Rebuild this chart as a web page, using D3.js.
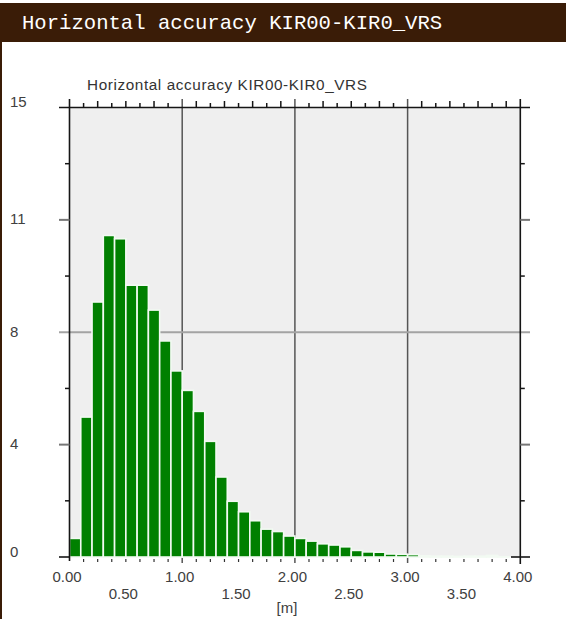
<!DOCTYPE html>
<html>
<head>
<meta charset="utf-8">
<script src="https://cdn.jsdelivr.net/npm/d3@7/dist/d3.min.js"></script>
<style>
  body { margin: 0; background: #fff; }
  svg { display: block; }
</style>
</head>
<body>
<script>
// Histogram of horizontal accuracy, 0.1 m bins
const binStart = [0.0, 0.1, 0.2, 0.3, 0.4, 0.5, 0.6, 0.7, 0.8, 0.9,
                  1.0, 1.1, 1.2, 1.3, 1.4, 1.5, 1.6, 1.7, 1.8, 1.9,
                  2.0, 2.1, 2.2, 2.3, 2.4, 2.5, 2.6, 2.7, 2.8, 2.9,
                  3.0, 3.1, 3.2, 3.3, 3.4, 3.5, 3.6, 3.7, 3.8, 3.9];
const binWidth = 0.1;
const counts = [0.62, 4.67, 8.51, 10.73, 10.62, 9.07, 9.07, 8.24, 7.21, 6.21,
                5.56, 4.86, 3.86, 2.67, 1.86, 1.51, 1.21, 0.93, 0.85, 0.70,
                0.62, 0.53, 0.44, 0.40, 0.34, 0.22, 0.17, 0.16, 0.10, 0.09,
                0.08, 0.04, 0.03, 0.03, 0.02, 0.03, 0.03, 0.05, 0.01, 0.00];

const yTickValues = [0, 3.75, 7.5, 11.25, 15];
const yTickLabels = ["0", "4", "8", "11", "15"];
const xTickUpper = [0, 1, 2, 3, 4];
const xTickUpperLabels = ["0.00", "1.00", "2.00", "3.00", "4.00"];
const xTickLower = [0.5, 1.5, 2.5, 3.5];
const xTickLowerLabels = ["0.50", "1.50", "2.50", "3.50"];
const xGrid = [1, 2, 3];
const yGrid = [7.5];

const pageTitle = "Horizontal accuracy KIR00-KIR0_VRS";
const chartTitle = "Horizontal accuracy KIR00-KIR0_VRS";
const xUnit = "[m]";

const W = 566, H = 619;
const brown = "#3a1c07";

const svg = d3.select("body").append("svg")
  .attr("width", W).attr("height", H);

// Page header band and left frame edge
svg.append("rect").attr("x", 0).attr("y", 3).attr("width", W).attr("height", 39).attr("fill", brown);
svg.append("rect").attr("x", 0).attr("y", 42).attr("width", 2).attr("height", H - 42).attr("fill", brown);
svg.append("text")
  .attr("x", 22).attr("y", 29.3)
  .attr("fill", "#ffffff")
  .attr("font-family", "'Liberation Mono', 'DejaVu Sans Mono', monospace")
  .attr("font-size", 20.6)
  .text(pageTitle);

const x = d3.scaleLinear().domain([0, 4]).range([69.5, 520.3]);
const y = d3.scaleLinear().domain([0, 15]).range([557, 107.5]);

// Plot background
svg.append("rect")
  .attr("x", x(0)).attr("y", y(15))
  .attr("width", x(4) - x(0)).attr("height", y(0) - y(15))
  .attr("fill", "#efefef");

// Vertical grid lines
svg.append("g").selectAll("line").data(xGrid).join("line")
  .attr("x1", d => x(d)).attr("x2", d => x(d))
  .attr("y1", 99).attr("y2", y(0) + 6)
  .attr("stroke", "#555").attr("stroke-width", 1.5);

// Horizontal grid line
svg.append("g").selectAll("line").data(yGrid).join("line")
  .attr("x1", 59).attr("x2", 530)
  .attr("y1", d => y(d)).attr("y2", d => y(d))
  .attr("stroke", "#a3a3a3").attr("stroke-width", 2.2);

// Bars
svg.append("g").selectAll("rect").data(binStart).join("rect")
  .attr("x", d => x(d))
  .attr("width", d => x(d + binWidth) - x(d))
  .attr("y", (d, i) => y(counts[i]))
  .attr("height", (d, i) => y(0) - y(counts[i]))
  .attr("fill", "#008000")
  .attr("stroke", "#f2faf2")
  .attr("stroke-width", 1.6);

// Tick positions every 1/8 m
const eighths = d3.range(1, 32).filter(k => k % 8 !== 0).map(k => k / 8);
const yMinor = [1.875, 5.625, 9.375, 13.125];

const axisColor = "#151515";

// Top axis
svg.append("line").attr("x1", 59).attr("x2", 530).attr("y1", y(15)).attr("y2", y(15))
  .attr("stroke", axisColor).attr("stroke-width", 1.5);
svg.append("g").selectAll("line").data(eighths).join("line")
  .attr("x1", d => x(d)).attr("x2", d => x(d))
  .attr("y1", y(15)).attr("y2", (d, i) => y(15) - ((i % 2 === 0) ? 4.5 : 6.5))
  .attr("stroke", axisColor).attr("stroke-width", 1.5);

// Bottom axis ticks
svg.append("g").selectAll("line").data(eighths).join("line")
  .attr("x1", d => x(d)).attr("x2", d => x(d))
  .attr("y1", y(0) + 2).attr("y2", y(0) + 5)
  .attr("stroke", "#333").attr("stroke-width", 1.2);

// Left axis
svg.append("line").attr("x1", x(0)).attr("x2", x(0)).attr("y1", 99).attr("y2", y(0) + 4)
  .attr("stroke", axisColor).attr("stroke-width", 1.6);
// Right axis
svg.append("line").attr("x1", x(4)).attr("x2", x(4)).attr("y1", 99).attr("y2", y(0) + 7)
  .attr("stroke", axisColor).attr("stroke-width", 1.6);

// Major ticks on both vertical axes
svg.append("g").selectAll("line").data([3.75, 11.25]).join("line")
  .attr("x1", 59).attr("x2", x(0))
  .attr("y1", d => y(d)).attr("y2", d => y(d))
  .attr("stroke", "#777").attr("stroke-width", 2);
svg.append("g").selectAll("line").data([3.75, 11.25]).join("line")
  .attr("x1", x(4)).attr("x2", 530)
  .attr("y1", d => y(d)).attr("y2", d => y(d))
  .attr("stroke", "#777").attr("stroke-width", 2);
svg.append("line").attr("x1", 59).attr("x2", x(0)).attr("y1", y(0)).attr("y2", y(0))
  .attr("stroke", axisColor).attr("stroke-width", 1.6);
svg.append("line").attr("x1", 511).attr("x2", 530).attr("y1", y(0)).attr("y2", y(0))
  .attr("stroke", axisColor).attr("stroke-width", 1.6);

// Minor ticks on both vertical axes
svg.append("g").selectAll("line").data(yMinor).join("line")
  .attr("x1", x(0) - 4.5).attr("x2", x(0))
  .attr("y1", d => y(d)).attr("y2", d => y(d))
  .attr("stroke", axisColor).attr("stroke-width", 1.5);
svg.append("g").selectAll("line").data(yMinor).join("line")
  .attr("x1", x(4)).attr("x2", x(4) + 4.5)
  .attr("y1", d => y(d)).attr("y2", d => y(d))
  .attr("stroke", axisColor).attr("stroke-width", 1.5);

// Labels
const labelFont = "'Liberation Sans', Arial, sans-serif";
const labelColor = "#404040";

svg.append("text")
  .attr("x", 87).attr("y", 89.5)
  .attr("font-family", labelFont).attr("font-size", 15.3)
  .attr("letter-spacing", 0.6)
  .attr("fill", "#333")
  .text(chartTitle);

// End labels sit on their tick; inner labels are centred on it
const [yMin, yMax] = y.domain();
svg.append("g").selectAll("text").data(yTickValues).join("text")
  .attr("x", 10)
  .attr("y", d => y(d) + ((d === yMin || d === yMax) ? -0.5 : 4.5))
  .attr("font-family", labelFont).attr("font-size", 15)
  .attr("fill", labelColor)
  .text((d, i) => yTickLabels[i]);

svg.append("g").selectAll("text").data(xTickUpper).join("text")
  .attr("x", d => x(d) - 2.5)
  .attr("y", 581.5)
  .attr("text-anchor", "middle")
  .attr("font-family", labelFont).attr("font-size", 15)
  .attr("fill", labelColor)
  .text((d, i) => xTickUpperLabels[i]);

svg.append("g").selectAll("text").data(xTickLower).join("text")
  .attr("x", d => x(d) - 2.5)
  .attr("y", 598.5)
  .attr("text-anchor", "middle")
  .attr("font-family", labelFont).attr("font-size", 15)
  .attr("fill", labelColor)
  .text((d, i) => xTickLowerLabels[i]);

svg.append("text")
  .attr("x", 287).attr("y", 612.5)
  .attr("text-anchor", "middle")
  .attr("font-family", labelFont).attr("font-size", 15)
  .attr("fill", labelColor)
  .text(xUnit);
</script>
</body>
</html>
